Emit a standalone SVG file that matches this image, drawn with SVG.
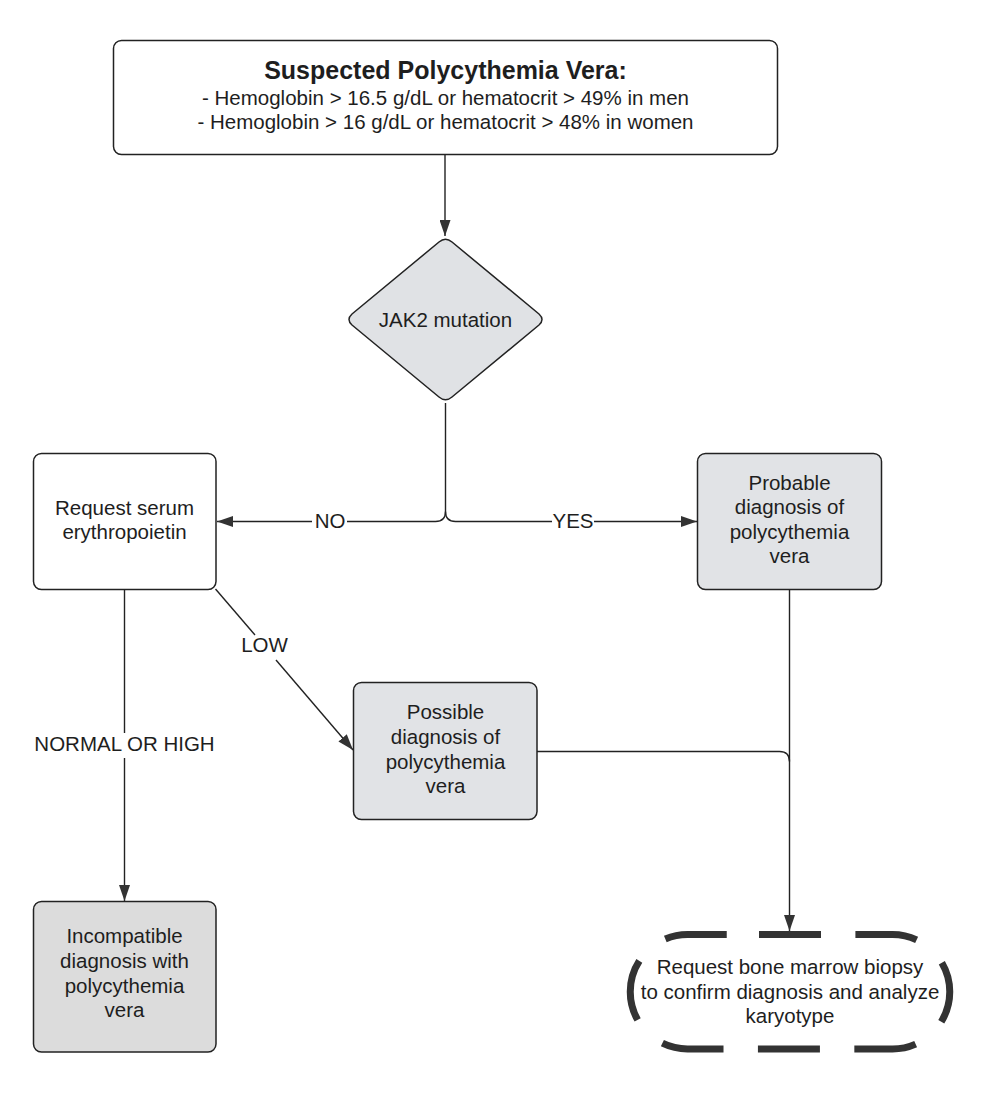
<svg xmlns="http://www.w3.org/2000/svg" width="986" height="1110" viewBox="0 0 986 1110">
<style>
text{font-family:"Liberation Sans",Arial,sans-serif;font-size:20.5px;fill:#1e1e1e;text-anchor:middle}
.title{font-weight:bold;font-size:25px}
.box{stroke:#222;stroke-width:1.5}
.white{fill:#fff}
.grey{fill:#e1e3e6}
.grey2{fill:#dcdcdc}
.line{fill:none;stroke:#222;stroke-width:1.4}
.term{fill:none;stroke:#333;stroke-width:7;stroke-dasharray:62 34.41}
</style>
<defs>
<marker id="arr" viewBox="0 0 16 11" refX="16" refY="5.5" markerWidth="16" markerHeight="11" markerUnits="userSpaceOnUse" orient="auto">
<path d="M0 0 L16 5.5 L0 11 Z" fill="#333"/>
</marker>
</defs>
<rect width="986" height="1110" fill="#fff"/>
<g id="connectors">
<path class="line" d="M445 154 V236" marker-end="url(#arr)"/>
<path class="line" d="M445.5 403 V511.5 Q445.5 521.5 435.5 521.5 H347"/>
<path class="line" d="M312 521.5 H217" marker-end="url(#arr)"/>
<path class="line" d="M445.5 511.5 Q445.5 521.5 455.5 521.5 H552"/>
<path class="line" d="M594 521.5 H697" marker-end="url(#arr)"/>
<path class="line" d="M124.5 590 V733"/>
<path class="line" d="M124.5 758 V901" marker-end="url(#arr)"/>
<path class="line" d="M215.5 589 L255 635"/>
<path class="line" d="M276 660 L353 750" marker-end="url(#arr)"/>
<path class="line" d="M789.5 590 V931" marker-end="url(#arr)"/>
<path class="line" d="M537 751.5 H779.5 Q789.5 751.5 789.5 761.5"/>
<text x="330" y="527.5">NO</text>
<text x="573" y="527.5">YES</text>
<text x="124.5" y="750.5">NORMAL OR HIGH</text>
<text x="264.5" y="652">LOW</text>
</g>
<g id="start">
<rect class="box white" x="113.5" y="40.5" width="664" height="114" rx="8"/>
<text class="title" x="445.5" y="79">Suspected Polycythemia Vera:</text>
<text x="445.5" y="105">- Hemoglobin &gt; 16.5 g/dL or hematocrit &gt; 49% in men</text>
<text x="445.5" y="129">- Hemoglobin &gt; 16 g/dL or hematocrit &gt; 48% in women</text>
</g>
<g id="jak2">
<path class="box" fill="#e0e2e5" stroke-linejoin="round" d="M439 242 Q445.5 236.5 452 242 L539 314 Q545 319.5 539 325 L452 397 Q445.5 402.5 439 397 L352 325 Q346 319.5 352 314 Z"/>
<text x="445.5" y="327">JAK2 mutation</text>
</g>
<g id="serum">
<rect class="box white" x="33.5" y="453.5" width="182.5" height="136" rx="8"/>
<text x="124.5" y="515">Request serum</text>
<text x="124.5" y="538.5">erythropoietin</text>
</g>
<g id="probable">
<rect class="box grey" x="697.5" y="453.5" width="184" height="136" rx="8"/>
<text x="789.5" y="490">Probable</text>
<text x="789.5" y="514">diagnosis of</text>
<text x="789.5" y="538.5">polycythemia</text>
<text x="789.5" y="563">vera</text>
</g>
<g id="possible">
<rect class="box grey" x="353.5" y="682.5" width="183.5" height="137" rx="8"/>
<text x="445.5" y="719">Possible</text>
<text x="445.5" y="744">diagnosis of</text>
<text x="445.5" y="768.5">polycythemia</text>
<text x="445.5" y="793">vera</text>
</g>
<g id="incompatible">
<rect class="box grey2" x="33.5" y="901.5" width="182.5" height="150.5" rx="8"/>
<text x="124.5" y="943">Incompatible</text>
<text x="124.5" y="968">diagnosis with</text>
<text x="124.5" y="992.5">polycythemia</text>
<text x="124.5" y="1017">vera</text>
</g>
<g id="biopsy">
<path class="term" d="M759 934.5 H892.5 A57.25 57.25 0 0 1 892.5 1049 H687.5 A57.25 57.25 0 0 1 687.5 934.5 Z"/>
<text x="790" y="974">Request bone marrow biopsy</text>
<text x="790" y="998.5">to confirm diagnosis and analyze</text>
<text x="790" y="1022.5">karyotype</text>
</g>
</svg>
